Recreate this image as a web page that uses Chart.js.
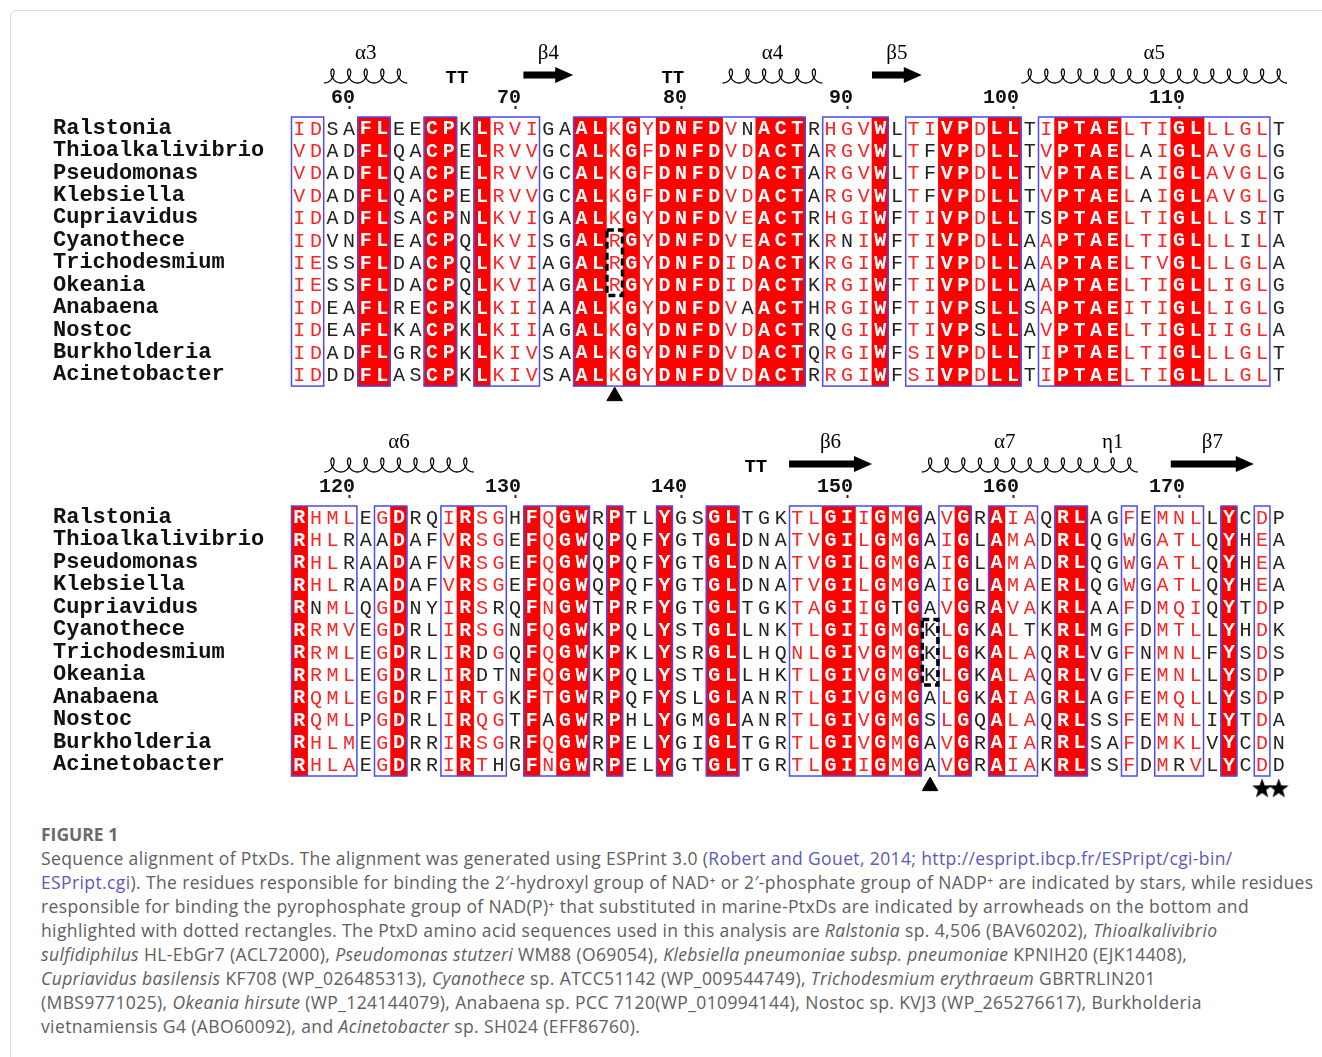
<!DOCTYPE html>
<html>
<head>
<meta charset="utf-8">
<script src="https://cdn.jsdelivr.net/npm/chart.js@4.4.1/dist/chart.umd.min.js"></script>
<style>
  body { margin: 0; background: #fff; width: 1322px; height: 1057px; position: relative; overflow: hidden; }
  .card { position: absolute; left: 10px; top: 10px; width: 1340px; height: 1100px; border: 1px solid #dcdcdc; border-radius: 6px; }
  canvas { position: absolute; left: 0; }
  #block1 { top: 0; }
  #block2 { top: 395px; }
  .cap { position: absolute; left: 41px; top: 822px; font-family: "Open Sans", Lato, sans-serif; font-size: 17.5px; letter-spacing: 0.38px; line-height: 24px; color: #5e5e5e; white-space: nowrap; }
  .cap .fig { font-weight: bold; font-size: 17.5px; letter-spacing: 0; color: #6a6a6a; }
  .cap a { color: #5a5ab8; text-decoration: none; }
</style>
</head>
<body>
<div class="card"></div>
<canvas id="block1" width="1322" height="410"></canvas>
<canvas id="block2" width="1322" height="405"></canvas>
<div class="cap">
  <div class="fig">FIGURE 1</div>
  <div>Sequence alignment of PtxDs. The alignment was generated using ESPrint 3.0 (<a>Robert and Gouet, 2014; http://espript.ibcp.fr/ESPript/cgi-bin/</a></div>
  <div><a>ESPript.cgi</a>). The residues responsible for binding the 2′-hydroxyl group of NAD⁺ or 2′-phosphate group of NADP⁺ are indicated by stars, while residues</div>
  <div>responsible for binding the pyrophosphate group of NAD(P)⁺ that substituted in marine-PtxDs are indicated by arrowheads on the bottom and</div>
  <div>highlighted with dotted rectangles. The PtxD amino acid sequences used in this analysis are <i>Ralstonia</i> sp. 4,506 (BAV60202), <i>Thioalkalivibrio</i></div>
  <div><i>sulfidiphilus</i> HL-EbGr7 (ACL72000), <i>Pseudomonas stutzeri</i> WM88 (O69054), <i>Klebsiella pneumoniae subsp. pneumoniae</i> KPNIH20 (EJK14408),</div>
  <div><i>Cupriavidus basilensis</i> KF708 (WP_026485313), <i>Cyanothece</i> sp. ATCC51142 (WP_009544749), <i>Trichodesmium erythraeum</i> GBRTRLIN201</div>
  <div>(MBS9771025), <i>Okeania hirsute</i> (WP_124144079), Anabaena sp. PCC 7120(WP_010994144), Nostoc sp. KVJ3 (WP_265276617), Burkholderia</div>
  <div>vietnamiensis G4 (ABO60092), and <i>Acinetobacter</i> sp. SH024 (EFF86760).</div>
</div>
<script>
// species, top to bottom
const species = ['Ralstonia', 'Thioalkalivibrio', 'Pseudomonas', 'Klebsiella', 'Cupriavidus', 'Cyanothece',
  'Trichodesmium', 'Okeania', 'Anabaena', 'Nostoc', 'Burkholderia', 'Acinetobacter'];

// block 1: residues 57-116
const start1 = 57;
const seq1 = [
  'IDSAFLEECPKLRVIGAALKGYDNFDVNACTRHGVWLTIVPDLLTIPTAELTIGLLLGLT',
  'VDADFLQACPELRVVGCALKGFDNFDVDACTARGVWLTFVPDLLTVPTAELAIGLAVGLG',
  'VDADFLQACPELRVVGCALKGFDNFDVDACTARGVWLTFVPDLLTVPTAELAIGLAVGLG',
  'VDADFLQACPELRVVGCALKGFDNFDVDACTARGVWLTFVPDLLTVPTAELAIGLAVGLG',
  'IDADFLSACPNLKVIGAALKGYDNFDVEACTRHGIWFTIVPDLLTSPTAELTIGLLLSIT',
  'IDVNFLEACPQLKVISGALRGYDNFDVEACTKRNIWFTIVPDLLAAPTAELTIGLLLILA',
  'IESSFLDACPQLKVIAGALRGYDNFDIDACTKRGIWFTIVPDLLAAPTAELTVGLLLGLA',
  'IESSFLDACPQLKVIAGALRGYDNFDIDACTKRGIWFTIVPDLLAAPTAELTIGLLIGLG',
  'IDEAFLRECPKLKIIAAALKGYDNFDVAACTHRGIWFTIVPSLLSAPTAEITIGLLIGLG',
  'IDEAFLKACPKLKIIAGALKGYDNFDVDACTRQGIWFTIVPSLLAVPTAELTIGLIIGLA',
  'IDADFLGRCPKLKIVSAALKGYDNFDVDACTQRGIWFSIVPDLLTIPTAELTIGLLLGLT',
  'IDDDFLASCPKLKIVSAALKGYDNFDVDACTRRGIWFSIVPDLLTIPTAELTIGLLLGLT'
];
const ticks1 = [60, 70, 80, 90, 100, 110];
const boxes1 = [[57, 58], [61, 62], [65, 66], [68, 71], [74, 87], [89, 92], [94, 100], [102, 115]];
// [residue, row] of dissimilar residues inside a box (drawn black)
const black1 = [[84, 0], [84, 8], [89, 9], [90, 5], [95, 1], [95, 2], [95, 3], [98, 8], [98, 9],
  [102, 4], [108, 1], [108, 2], [108, 3], [114, 4], [114, 5]];
const helix1 = [[59, 63], [83, 88], [101, 116]];
const helixNames1 = ['α3', 'α4', 'α5'];
const strand1 = [[71, 73], [92, 94]];
const strandNames1 = ['β4', 'β5'];
const turns1 = [66, 79];
const arrows1 = [76];
const stars1 = [];
const dotted1 = [76, 5, 7];

// block 2: residues 117-176
const start2 = 117;
const seq2 = [
  'RHMLEGDRQIRSGHFQGWRPTLYGSGLTGKTLGIIGMGAVGRAIAQRLAGFEMNLLYCDP',
  'RHLRAADAFVRSGEFQGWQPQFYGTGLDNATVGILGMGAIGLAMADRLQGWGATLQYHEA',
  'RHLRAADAFVRSGEFQGWQPQFYGTGLDNATVGILGMGAIGLAMADRLQGWGATLQYHEA',
  'RHLRAADAFVRSGEFQGWQPQFYGTGLDNATVGILGMGAIGLAMAERLQGWGATLQYHEA',
  'RNMLQGDNYIRSRQFNGWTPRFYGTGLTGKTAGIIGTGAVGRAVAKRLAAFDMQIQYTDP',
  'RRMVEGDRLIRSGNFQGWKPQLYSTGLLNKTLGIIGMGKLGKALTKRLMGFDMTLLYHDK',
  'RRMLEGDRLIRDGQFQGWKPKLYSRGLLHQNLGIVGMGKLGKALAQRLVGFNMNLFYSDS',
  'RRMLEGDRLIRDTNFQGWKPQLYSTGLLHKTLGIVGMGKLGKALAQRLVGFEMNLLYSDP',
  'RQMLEGDRFIRTGKFTGWRPQFYSLGLANRTLGIVGMGALGKAIAGRLAGFEMQLLYSDP',
  'RQMLPGDRLIRQGTFAGWRPHLYGMGLANRTLGIVGMGSLGQALAQRLSSFEMNLIYTDA',
  'RHLMEGDRRIRSGRFQGWRPELYGIGLTGRTLGIVGMGAVGRAIARRLSAFDMKLVYCDN',
  'RHLAEGDRRIRTHGFNGWRPELYGTGLTGRTLGIIGMGAVGRAIAKRLSSFDMRVLYCDD'
];
const ticks2 = [120, 130, 140, 150, 160, 170];
const boxes2 = [[117, 120], [122, 123], [126, 129], [131, 134], [136, 136], [139, 139], [142, 143],
  [147, 154], [156, 157], [159, 161], [163, 164], [167, 167], [169, 171], [173, 173], [175, 175]];
const black2 = [[118, 4], [120, 1], [120, 2], [120, 3], [122, 1], [122, 2], [122, 3], [128, 6], [128, 7],
  [129, 4], [129, 7], [129, 11], [132, 9], [153, 4], [161, 5], [170, 11]];
const helix2 = [[119, 127], [155, 164], [165, 167]];
const helixNames2 = ['α6', 'α7', 'η1'];
const strand2 = [[147, 151], [170, 174]];
const strandNames2 = ['β6', 'β7'];
const turns2 = [144];
const arrows2 = [155];
const stars2 = [175, 176];
const dotted2 = [155, 5, 7];

const RED = '#ff0000';
const RED_TXT = '#ff2424';
const BLUE = '#4b4bf2';
const INK = '#222';
const MONO = '"Liberation Mono", "DejaVu Sans Mono", monospace';

Chart.defaults.font.family = MONO;

// columns where every sequence has the same residue
function conserved(seqs, start) {
  const out = [];
  for (let i = 0; i < seqs[0].length; i++) {
    if (seqs.every(s => s[i] === seqs[0][i])) out.push(start + i);
  }
  return out;
}

const starImg = document.createElement('canvas');
starImg.width = 22; starImg.height = 22;
(function () {
  const c = starImg.getContext('2d');
  c.beginPath();
  for (let k = 0; k < 10; k++) {
    const r = k % 2 ? 4.3 : 10.5;
    const a = -Math.PI / 2 + k * Math.PI / 5;
    c.lineTo(11 + r * Math.cos(a), 11.5 + r * Math.sin(a));
  }
  c.closePath();
  c.fillStyle = '#000';
  c.fill();
})();

function drawCoil(ctx, x0, x1, n, base, h) {
  const w = (x1 - x0) / n, r = w * 0.3;
  ctx.beginPath();
  for (let k = 0; k <= n * 40; k++) {
    const t = k / 40 * 2 * Math.PI;
    const px = x0 + w * t / (2 * Math.PI) + r * Math.sin(t);
    const py = base - h * (1 - Math.cos(t)) / 2;
    if (k) ctx.lineTo(px, py); else ctx.moveTo(px, py);
  }
  ctx.stroke();
}

function drawArrow(ctx, x0, x1, yc) {
  ctx.beginPath();
  ctx.moveTo(x0, yc - 3.5);
  ctx.lineTo(x1 - 18, yc - 3.5);
  ctx.lineTo(x1 - 18, yc - 8);
  ctx.lineTo(x1, yc);
  ctx.lineTo(x1 - 18, yc + 8);
  ctx.lineTo(x1 - 18, yc + 3.5);
  ctx.lineTo(x0, yc + 3.5);
  ctx.closePath();
  ctx.fill();
}

function espriptPlugin(b) {
  return {
    id: 'espript',
    afterDatasetsDraw(chart) {
      const { ctx, chartArea: a, scales: { x, y } } = chart;
      const cons = conserved(b.seqs, b.start);
      const inBox = r => b.boxes.some(([s, e]) => r >= s && r <= e);
      const isBlack = (r, row) => b.black.some(([br, bw]) => br === r && bw === row);
      ctx.save();
      ctx.textAlign = 'center';
      ctx.textBaseline = 'middle';
      b.seqs.forEach((s, row) => {
        const py = y.getPixelForValue(row) + 1;
        for (let i = 0; i < s.length; i++) {
          const res = b.start + i;
          if (cons.includes(res)) {
            ctx.fillStyle = '#fff';
            ctx.font = 'bold 20px ' + MONO;
          } else {
            ctx.fillStyle = inBox(res) && !isBlack(res, row) ? RED_TXT : INK;
            ctx.font = '20px ' + MONO;
          }
          ctx.fillText(s[i], x.getPixelForValue(res), py);
        }
      });
      // similarity boxes
      ctx.strokeStyle = BLUE;
      ctx.lineWidth = 1.5;
      const yTop = y.getPixelForValue(-0.5), yBot = y.getPixelForValue(11.5);
      b.boxes.forEach(([s, e]) => {
        const x0 = x.getPixelForValue(s - 0.5), x1 = x.getPixelForValue(e + 0.5);
        ctx.strokeRect(x0 + 0.5, yTop, x1 - x0 - 1, yBot - yTop);
      });
      // dotted rectangle
      const [dr, r0, r1] = b.dotted;
      ctx.strokeStyle = '#000';
      ctx.lineWidth = 3.5;
      ctx.setLineDash([7, 4]);
      const dx0 = x.getPixelForValue(dr - 0.5), dx1 = x.getPixelForValue(dr + 0.5);
      const dy0 = y.getPixelForValue(r0 - 0.5), dy1 = y.getPixelForValue(r1 + 0.5);
      ctx.strokeRect(dx0 + 0.5, dy0 + 1, dx1 - dx0 - 1, dy1 - dy0 - 2);
      ctx.setLineDash([]);
      // secondary structure above the numbering
      ctx.strokeStyle = '#000';
      ctx.fillStyle = '#000';
      ctx.lineWidth = 1.3;
      b.helix.forEach(([s, e], k) => {
        const x0 = x.getPixelForValue(s - 0.5), x1 = x.getPixelForValue(e + 0.5);
        drawCoil(ctx, x0, x1, e - s + 1, a.top - 34, 14);
        ctx.font = '21px "Liberation Serif", serif';
        ctx.fillText(b.helixNames[k], (x0 + x1) / 2, a.top - 64);
      });
      b.strand.forEach(([s, e], k) => {
        const x0 = x.getPixelForValue(s - 0.5), x1 = x.getPixelForValue(e + 0.5);
        drawArrow(ctx, x0, x1, a.top - 42);
        ctx.font = '21px "Liberation Serif", serif';
        ctx.fillText(b.strandNames[k], (x0 + x1) / 2, a.top - 64);
      });
      ctx.font = 'bold 19px ' + MONO;
      b.turns.forEach(t => {
        ctx.fillText('TT', x.getPixelForValue(t + 0.5), a.top - 39);
      });
      ctx.restore();
    }
  };
}

function makeBlock(id, b) {
  const cons = conserved(b.seqs, b.start);
  return new Chart(document.getElementById(id), {
    type: 'bar',
    data: {
      datasets: [
        {
          type: 'bar',
          data: cons.map(r => ({ x: r, y: [-0.5, 11.5] })),
          backgroundColor: RED,
          borderWidth: 0,
          barPercentage: 1,
          categoryPercentage: 1
        },
        {
          type: 'scatter',
          data: b.arrows.map(r => ({ x: r, y: 11.95 })),
          pointStyle: 'triangle',
          pointRadius: 9,
          backgroundColor: '#000',
          borderColor: '#000',
          clip: false
        },
        {
          type: 'scatter',
          data: b.stars.map(r => ({ x: r, y: 12.05 })),
          pointStyle: starImg,
          clip: false
        }
      ]
    },
    options: {
      responsive: false,
      animation: false,
      devicePixelRatio: 1,
      layout: { autoPadding: false, padding: { left: 53, right: 35, top: 0, bottom: b.padBottom } },
      plugins: { legend: { display: false }, tooltip: { enabled: false } },
      scales: {
        x: {
          type: 'linear',
          position: 'top',
          min: b.start - 0.5,
          max: b.start + 59.5,
          offset: false,
          afterBuildTicks: s => { s.ticks = b.ticks.map(v => ({ value: v })); },
          afterFit: s => { s.height = b.axisHeight; s.paddingLeft = 0; s.paddingRight = 0; },
          grid: { offset: false, drawOnChartArea: false, tickLength: 11, tickWidth: 2, tickColor: '#222', tickBorderDash: [3, 40] },
          border: { display: false },
          ticks: {
            font: { size: 20, weight: 'bold' }, color: '#111', padding: -4,
            align: 'end', labelOffset: 6, maxRotation: 0, minRotation: 0, autoSkip: false,
            callback: v => String(v)
          }
        },
        y: {
          // one extra row under the sequences holds the arrowheads and stars
          type: 'linear',
          reverse: true,
          min: -0.5,
          max: 12.5,
          afterBuildTicks: s => { s.ticks = species.map((_, i) => ({ value: i })); },
          afterFit: s => { s.width = 238; s.paddingTop = 0; s.paddingBottom = 0; },
          grid: { display: false },
          border: { display: false },
          ticks: {
            font: { size: 22, weight: 'bold' }, color: '#111', padding: 0,
            crossAlign: 'far', autoSkip: false,
            callback: v => species[v]
          }
        }
      }
    },
    plugins: [espriptPlugin(b)]
  });
}

makeBlock('block1', {
  seqs: seq1, start: start1, ticks: ticks1, boxes: boxes1, black: black1,
  helix: helix1, helixNames: helixNames1, strand: strand1, strandNames: strandNames1,
  turns: turns1, arrows: arrows1, stars: stars1, dotted: dotted1,
  axisHeight: 117, padBottom: 1.5
});
makeBlock('block2', {
  seqs: seq2, start: start2, ticks: ticks2, boxes: boxes2, black: black2,
  helix: helix2, helixNames: helixNames2, strand: strand2, strandNames: strandNames2,
  turns: turns2, arrows: arrows2, stars: stars2, dotted: dotted2,
  axisHeight: 111, padBottom: 1.5
});
</script>
</body>
</html>
